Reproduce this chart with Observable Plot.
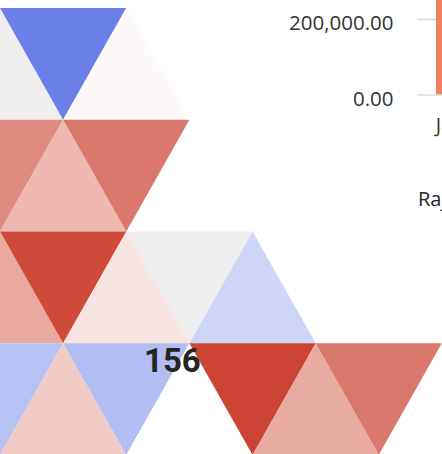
<!DOCTYPE html>
<html>
<head>
<meta charset="utf-8">
<script src="https://cdn.jsdelivr.net/npm/d3@7"></script>
<script src="https://cdn.jsdelivr.net/npm/@observablehq/plot@0.6"></script>
<style>
  html, body { margin: 0; padding: 0; overflow: hidden; background: #ffffff; }
  #page { position: relative; width: 442px; height: 454px; overflow: hidden; }
  #tiles { position: absolute; left: 0; top: 0; width: 442px; }
  #bars { position: absolute; left: 282px; top: 0; width: 200px; }
  #page svg { max-width: none !important; }
  .card { position: absolute; left: 144px; top: 344px; font: 700 33px/33px Roboto, sans-serif; color: #252423; white-space: nowrap; }
  .title { position: absolute; left: 418px; top: 189px; font: 400 20px/20px "Open Sans", sans-serif; color: #252423; white-space: nowrap; }
</style>
</head>
<body>
<div id="page">
  <div id="tiles"></div>
  <div id="bars"></div>
  <div class="card" id="cardValue"></div>
  <div class="title" id="titleText"></div>
</div>
<script>
// ---- triangle tile map data ----
const triRow   = [0, 0, 0,   1, 1, 1,   2, 2, 2, 2, 2,   3, 3, 3, 3, 3, 3, 3, 3];
const triCol   = [0, 1, 2,   0, 1, 2,   0, 1, 2, 3, 4,   0, 1, 2, 3, 4, 5, 6, 7];
const triValue = [null, -1, 0.03,   0.62, 0.38, 0.72,   0.46, 0.97, 0.15, null, -0.33,
                  -0.48, 0.28, -0.52, 0, 1, 0.45, 0.72, 0];

// ---- bar chart fragment data ----
const months = ["Jan"];
const sales = [268000];
const yTicks = [0, 200000];

// ---- card / title text ----
const cardValue = 156;
const titleText = "Rajasthan";

// build triangle vertex table (grid units)
const pts = [];
triRow.forEach((r, i) => {
  const c = triCol[i];
  const up = (r + c) % 2 === 0;
  const base = up ? r + 1 : r;
  const tip = up ? r : r + 1;
  [-1, 0, 1].forEach(k => pts.push({id: i, x: c + k, y1: base, y2: k === 0 ? tip : base, v: triValue[i]}));
});

const tiles = Plot.plot({
  width: 442, height: 455, margin: 0,
  x: {domain: [0, 7], range: [0, 442], axis: null},
  y: {domain: [0, 4], range: [8, 455], axis: null},
  color: {type: "linear", domain: [-1, 0, 1], range: ["#6a80e8", "#ffffff", "#cc4433"], interpolate: "rgb"},
  style: {background: "transparent"},
  marks: [
    Plot.areaY(pts.filter(d => d.v == null), {x: "x", y1: "y1", y2: "y2", z: "id", fill: "#eeeeee", curve: "linear"}),
    Plot.areaY(pts.filter(d => d.v != null), {x: "x", y1: "y1", y2: "y2", z: "id", fill: "v", curve: "linear"})
  ]
});
document.getElementById("tiles").append(tiles);

const barData = months.map((m, i) => ({month: m, sales: sales[i]}));
const bars = Plot.plot({
  width: 200, height: 135,
  marginLeft: 135, marginRight: 1, marginTop: 0, marginBottom: 40.5,
  x: {domain: months, padding: 0.4066, label: null},
  y: {domain: [0, 250000], label: null},
  style: {background: "transparent", fontFamily: "'Open Sans', sans-serif", fontSize: "20px", color: "#333", overflow: "visible"},
  marks: [
    Plot.gridY(yTicks, {stroke: "#d9d9d9", strokeOpacity: 1, strokeWidth: 1.5}),
    Plot.barY(barData, {x: "month", y: "sales", fill: "#ef8060", clip: true}),
    Plot.axisY(yTicks, {tickSize: 0, tickPadding: 24, tickFormat: d3.format(",.2f"), fontSize: 20.5, dy: 4, fill: "#333", label: null}),
    Plot.axisX({tickSize: 0, tickPadding: 23, fontSize: 20, fill: "#333", label: null})
  ]
});
document.getElementById("bars").append(bars);

document.getElementById("cardValue").textContent = String(cardValue);
document.getElementById("titleText").textContent = titleText;
</script>
</body>
</html>
